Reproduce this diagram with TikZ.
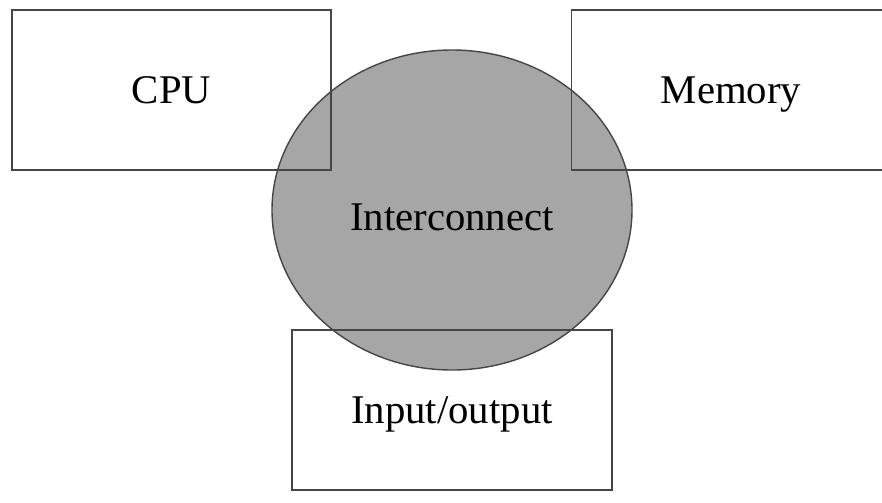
\documentclass[tikz,border=0pt]{standalone}
\usepackage{fontspec}
\setmainfont{Liberation Serif}
\usepackage{tikz}
\usetikzlibrary{positioning}
\usetikzlibrary{shapes}
\definecolor{busgray}{RGB}{166,166,166}
\definecolor{linegray}{RGB}{70,70,70}
\tikzstyle{unit}=[draw=linegray,line width=0.8pt,rectangle,minimum width=6.38cm,minimum height=3.2cm,text height=15.3pt,text depth=0pt]
\tikzstyle{bus}=[draw=linegray,line width=0.8pt,fill=busgray,ellipse,minimum width=7.2cm,minimum height=6.4cm,inner sep=0pt]

\begin{document}
\begin{tikzpicture}[font=\fontsize{23.2}{27}\selectfont]
\useasboundingbox (0,0) rectangle (17.64,-10.04);

% shared interconnect behind the units
\path (9.04,-4.2) node (ic) [bus] {};
\path (ic.center) ++ (0,-0.14) node (iclabel) [text height=15.3pt,text depth=0pt] {Interconnect};

\path (3.43,-1.8) node (cpu) [unit] {CPU}
      + (11.19,0) node (mem) [unit] {Memory}
      (9.04,-8.2) node (io) [unit,minimum width=6.4cm] {Input/output};

\end{tikzpicture}
\end{document}
